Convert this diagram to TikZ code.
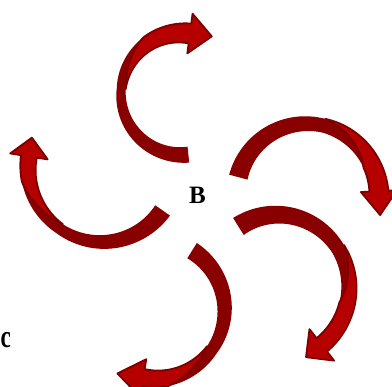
\documentclass[tikz,border=0pt]{standalone}
\usepackage{fontspec}
\setmainfont{Liberation Serif}
\definecolor{backred}{RGB}{136,0,0}
\definecolor{frontred}{RGB}{182,0,0}
\definecolor{edgered}{RGB}{125,0,0}
\pgfkeys{/ribbon/.cd,
  cx/.store in=\rbcx, cy/.store in=\rbcy,
  ra/.store in=\rba, rb/.store in=\rbb, rt/.store in=\rbt, rg/.store in=\rbg,
  ri/.store in=\rbri, rii/.store in=\rbrii,
  wt/.store in=\rbwt, wm/.store in=\rbwm, wh/.store in=\rbwh,
  hw/.store in=\rbhw, hl/.store in=\rbhl, s/.store in=\rbs}
\def\Rexp{(\rbri+(\rbrii-\rbri)*(\rba-\x)/(\rba-\rbb))}
\def\Wexp{(\rbwm+(\rbwt-\rbwm)*max(0,(\x-\rbt)/(\rba-\rbt))+(\rbwh-\rbwm)*max(0,(\rbt-\x)/(\rbt-\rbb)))}
\def\Fexp{(min(1,max(0,(\rbt-\x)/\rbg)))}
\newcommand\ribbon[1]{%
  \pgfkeys{/ribbon/.cd,#1}%
  \pgfmathsetmacro\tipang{\rbb-90}%
  \begin{scope}[shift={(\rbcx,\rbcy)}]
    \fill[backred] plot[domain=\rba:\rbb,samples=70] (\x:{\Rexp+\Wexp/2})
      -- (\rbb:{\rbrii+\rbhw}) -- ([shift={(\tipang:\rbhl)}]\rbb:\rbrii)
      -- (\rbb:{\rbrii-\rbhw}) -- (\rbb:{\rbrii-\rbwh/2})
      -- plot[domain=\rbb:\rba,samples=70] (\x:{\Rexp-\Wexp/2}) -- cycle;
    \filldraw[fill=frontred,draw=edgered,line width=1.8pt,line join=round]
      plot[domain=\rbt:\rbb,samples=50] (\x:{\Rexp+(\rbs)*\Wexp/2})
      -- (\rbb:{\rbrii+(\rbs)*\rbhw}) -- ([shift={(\tipang:\rbhl)}]\rbb:\rbrii)
      -- (\rbb:{\rbrii-(\rbs)*\rbhw}) -- (\rbb:{\rbrii-(\rbs)*\rbwh/2})
      -- plot[domain=\rbb:\rbt,samples=50] (\x:{\Rexp+(\rbs)*\Wexp/2-(\rbs)*\Wexp*\Fexp}) -- cycle;
  \end{scope}}
\tikzset{lbl/.style={font=\fontsize{25}{25}\selectfont\bfseries,inner sep=0pt}}
\begin{document}
\begin{tikzpicture}[x=1pt,y=1pt]
\clip (0,0) rectangle (392,387);
\fill[white] (0,0) rectangle (392,387);
\ribbon{cx=182,cy=293,ra=276,rb=82.5,rt=175,rg=50,ri=61,rii=61,wt=16,wm=9,wh=20,hw=20,hl=22,s=-1}
\ribbon{cx=305,cy=192,ra=165,rb=3,rt=75,rg=50,ri=69,rii=74,wt=19,wm=14,wh=19,hw=18,hl=24,s=1}
\ribbon{cx=102,cy=219,ra=325,rb=171,rt=235,rg=45,ri=74,rii=74,wt=18,wm=11,wh=16,hw=19,hl=19,s=-1}
\ribbon{cx=155,cy=77,ra=58,rb=-100,rt=-35,rg=45,ri=70,rii=69,wt=18,wm=12,wh=18,hw=19,hl=26,s=-1}
\ribbon{cx=275,cy=102,ra=122,rb=-52,rt=30,rg=45,ri=69,rii=76,wt=20,wm=14,wh=17,hw=20,hl=20,s=1}
\node[lbl] (b) at (197.5,191.5) {B};
\node[lbl,font=\fontsize{32}{32}\selectfont\bfseries,xscale=0.72,transform shape,anchor=west] (c) at (0.6,47) {c};
\end{tikzpicture}
\end{document}
